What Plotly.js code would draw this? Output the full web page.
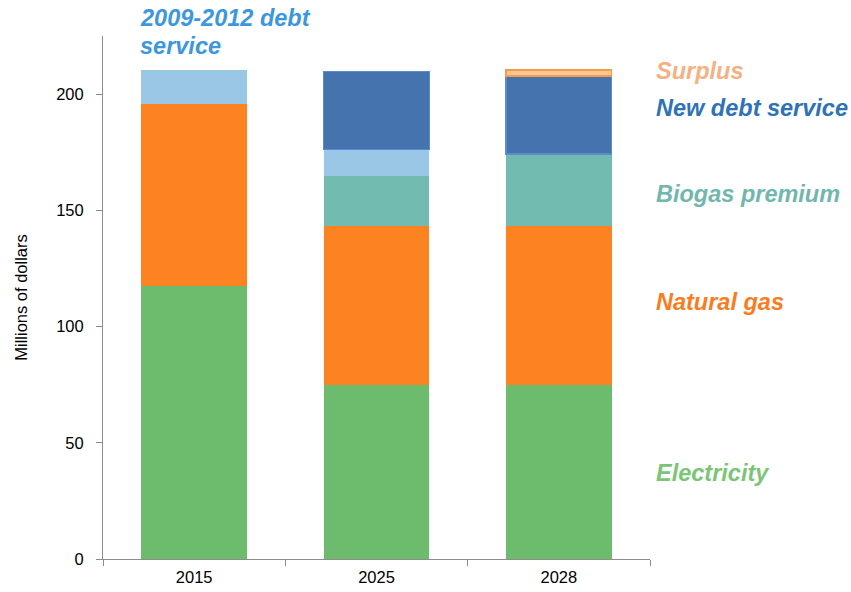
<!DOCTYPE html>
<html>
<head>
<meta charset="utf-8">
<script src="https://cdn.plot.ly/plotly-3.0.1.min.js"></script>
<style>html,body{margin:0;padding:0;background:#fff;}#chart{width:851px;height:592px;}</style>
</head>
<body>
<div id="chart"></div>
<script>
var years = ["2015", "2025", "2028"];
var electricity = [117.5, 74.8, 74.8];
var naturalGas = [78.3, 68.4, 68.4];
var biogasPremium = [0, 21.5, 31.0];
var oldDebtService = [14.5, 11.6, 0];
var newDebtService = [0, 33.6, 33.5];
var surplus = [0, 0, 2.6];

var seriesNames = ["Electricity", "Natural gas", "Biogas premium", "2009-2012 debt service", "New debt service", "Surplus"];
var seriesValues = [electricity, naturalGas, biogasPremium, oldDebtService, newDebtService, surplus];
var fillColors = ["#6dbb6c", "#fd8222", "#72bbb1", "#9bc7e6", "#4573ad", "#f8c892"];
var lineColors = ["#6dbb6c", "#fd8222", "#72bbb1", "#9bc7e6", "#5a8bd0", "#f89a4a"];
var lineWidths = [0, 0, 0, 0, 1.2, 1.5];

var traces = seriesNames.map(function (n, i) {
  return {
    type: "bar",
    name: n,
    x: years,
    y: seriesValues[i].map(function (v) { return v === 0 ? null : v; }),
    width: 0.58,
    marker: { color: fillColors[i], line: { color: lineColors[i], width: lineWidths[i] } },
    hoverinfo: "x+y+name"
  };
});

var labelFont = "Liberation Sans, Arial, Helvetica, sans-serif";
var tickSize = 16.5;
function lab(text, y, color) {
  return {
    xref: "paper", yref: "y", x: 1.008, y: y, xanchor: "left", yanchor: "middle",
    text: "<b><i>" + text + "</i></b>", showarrow: false,
    font: { family: labelFont, size: 23.5, color: color }
  };
}
function titleLine(text, ypx) {
  return {
    xref: "paper", yref: "paper", x: (138 - 103) / 547, y: (559 - ypx) / 523,
    xanchor: "left", yanchor: "middle", align: "left",
    text: "<b><i>" + text + "</i></b>", showarrow: false,
    font: { family: labelFont, size: 23.5, color: "#3d97dc" }
  };
}

var layout = {
  width: 851, height: 592,
  margin: { l: 103, r: 201, t: 36, b: 33 },
  paper_bgcolor: "#ffffff", plot_bgcolor: "#ffffff",
  barmode: "stack",
  showlegend: false,
  font: { family: labelFont, size: tickSize, color: "#000" },
  xaxis: {
    type: "category",
    showline: true, linecolor: "#8c8c8c", linewidth: 1,
    ticks: "outside", tickson: "boundaries", ticklen: 6, tickcolor: "#8c8c8c",
    ticklabelstandoff: 3,
    showgrid: false, zeroline: false,
    tickfont: { family: labelFont, size: tickSize, color: "#000" }
  },
  yaxis: {
    range: [0, 225],
    tickvals: [0, 50, 100, 150, 200],
    showline: true, linecolor: "#8c8c8c", linewidth: 1,
    ticks: "outside", ticklen: 6, tickcolor: "#8c8c8c",
    ticklabelstandoff: 9,
    showgrid: false, zeroline: false,
    tickfont: { family: labelFont, size: tickSize, color: "#000" },
    title: { text: "Millions of dollars", font: { family: labelFont, size: tickSize, color: "#000" }, standoff: 24 }
  },
  annotations: [
    lab("Surplus", 210, "#f4b183"),
    lab("New debt service", 194, "#2e73b5"),
    lab("Biogas premium", 157, "#72b7ae"),
    lab("Natural gas", 110.5, "#f97c22"),
    lab("Electricity", 37, "#7cc576"),
    titleLine("2009-2012 debt", 18),
    titleLine("service", 46)
  ]
};

Plotly.newPlot("chart", traces, layout, { displayModeBar: false, staticPlot: true });
</script>
</body>
</html>
